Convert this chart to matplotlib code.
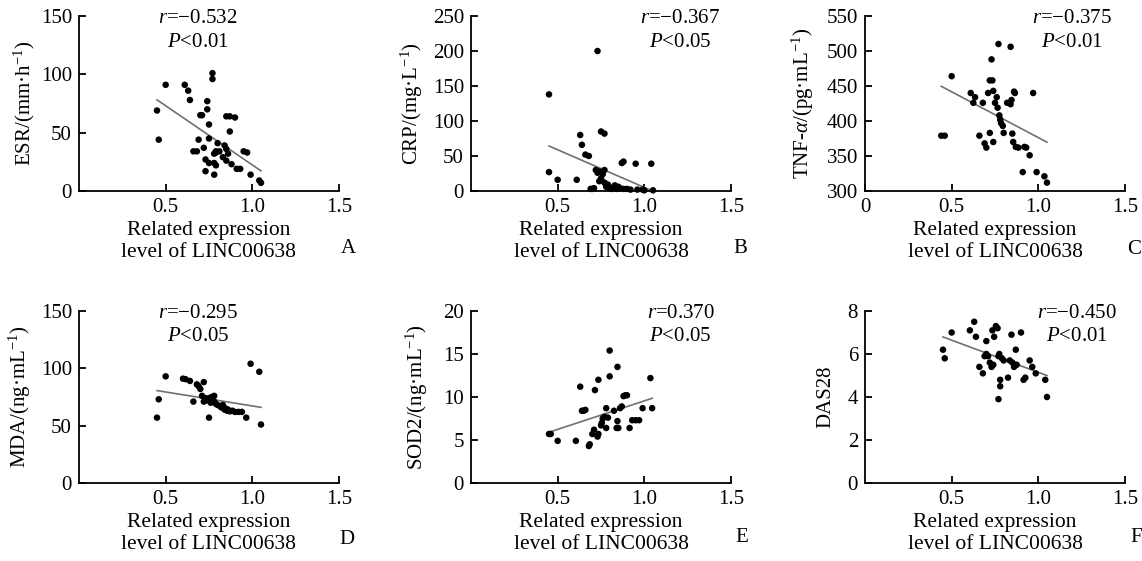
import matplotlib
matplotlib.use("Agg")
import matplotlib.pyplot as plt
import numpy as np

plt.rcParams['font.family'] = ['Liberation Serif', 'DejaVu Serif']
plt.rcParams['mathtext.fontset'] = 'custom'
plt.rcParams['mathtext.rm'] = 'Liberation Serif'
plt.rcParams['mathtext.it'] = 'Liberation Serif:italic'
plt.rcParams['axes.unicode_minus'] = True

# ESR
esr_x = [0.45, 0.46, 0.50, 0.61, 0.63, 0.64, 0.66, 0.68, 0.69, 0.70,
         0.71, 0.72, 0.73, 0.73, 0.74, 0.74, 0.75, 0.75, 0.75, 0.77,
         0.77, 0.78, 0.78, 0.78, 0.79, 0.79, 0.80, 0.79, 0.81, 0.83,
         0.84, 0.85, 0.85, 0.85, 0.87, 0.87, 0.86, 0.88, 0.90, 0.91,
         0.93, 0.95, 0.97, 0.99, 1.04, 1.05]
esr_y = [69, 44, 91, 91, 86, 78, 34, 34, 44, 65,
         65, 37, 17, 27, 77, 70, 57, 45, 24, 101,
         96, 24, 14, 32, 34, 33, 41, 22, 34, 29,
         39, 36, 26, 64, 64, 51, 32, 23, 63, 19,
         19, 34, 33, 14, 9, 7]

# CRP
crp_x = [0.45, 0.45, 0.50, 0.61, 0.63, 0.64, 0.66, 0.68, 0.69, 0.70,
         0.71, 0.72, 0.73, 0.73, 0.74, 0.74, 0.75, 0.75, 0.76, 0.77,
         0.77, 0.77, 0.78, 0.78, 0.79, 0.80, 0.81, 0.82, 0.83, 0.84,
         0.85, 0.86, 0.87, 0.88, 0.88, 0.90, 0.92, 0.95, 0.96, 0.99,
         1.00, 1.04, 1.05]
crp_y = [138, 27, 16, 16, 80, 66, 52, 50, 3, 3,
         4, 30, 200, 26, 28, 14, 18, 85, 24, 82,
         30, 12, 10, 6, 9, 4, 3, 5, 8, 3,
         6, 4, 40, 42, 3, 3, 2, 39, 2, 2,
         1, 39, 1]

# TNF-alpha
tnf_x = [0.44, 0.46, 0.50, 0.61, 0.635, 0.625, 0.68, 0.66, 0.69, 0.70,
         0.71, 0.72, 0.72, 0.735, 0.73, 0.74, 0.74, 0.75, 0.76, 0.765,
         0.77, 0.775, 0.78, 0.785, 0.795, 0.80, 0.82, 0.84, 0.845, 0.84,
         0.85, 0.855, 0.865, 0.87, 0.885, 0.86, 0.91, 0.92, 0.93, 0.95,
         0.97, 0.99, 1.035, 1.05]
tnf_y = [379, 379, 464, 440, 434, 426, 426, 379, 368, 362,
         440, 383, 458, 458, 488, 370, 443, 426, 434, 419,
         510, 408, 402, 397, 393, 383, 426, 506, 430, 424,
         382, 370, 440, 363, 362, 442, 327, 363, 362, 351,
         440, 327, 321, 312]

# MDA
mda_x = [0.45, 0.46, 0.50, 0.60, 0.615, 0.64, 0.66, 0.68, 0.69, 0.70,
         0.72, 0.71, 0.72, 0.73, 0.75, 0.75, 0.765, 0.77, 0.78, 0.79,
         0.80, 0.815, 0.82, 0.84, 0.845, 0.86, 0.87, 0.885, 0.90, 0.92,
         0.94, 0.965, 0.99, 1.04, 1.05, 0.78, 0.74, 0.76, 0.83, 0.855]
mda_y = [57, 73, 93, 91, 90.5, 89, 71, 86, 84.5, 82,
         88, 76, 71, 74, 57, 74, 75, 72, 71, 69,
         68, 67, 66, 64, 65, 64, 62.5, 63, 62, 62,
         62, 57, 104, 97, 51, 76, 72, 70, 68, 63]

# SOD2
sod_x = [0.45, 0.46, 0.50, 0.605, 0.63, 0.64, 0.65, 0.66, 0.68, 0.685,
         0.70, 0.715, 0.71, 0.73, 0.735, 0.735, 0.75, 0.755, 0.76, 0.77,
         0.78, 0.78, 0.79, 0.80, 0.80, 0.825, 0.84, 0.85, 0.845, 0.845,
         0.86, 0.87, 0.88, 0.89, 0.90, 0.915, 0.93, 0.95, 0.97, 0.99,
         1.035, 1.045]
sod_y = [5.7, 5.7, 4.9, 4.9, 11.2, 8.4, 8.4, 8.5, 4.3, 4.5,
         5.7, 10.8, 6.2, 5.4, 5.7, 12.0, 6.7, 7.0, 7.5, 7.7,
         8.7, 6.4, 7.6, 15.4, 12.4, 8.4, 6.4, 6.4, 13.5, 7.2,
         8.7, 8.9, 10.1, 10.2, 10.2, 6.4, 7.3, 7.3, 7.3, 8.7,
         12.2, 8.7]

# DAS28
das_x = [0.45, 0.46, 0.50, 0.605, 0.63, 0.64, 0.66, 0.68, 0.70, 0.69,
         0.70, 0.71, 0.72, 0.73, 0.74, 0.735, 0.745, 0.755, 0.765, 0.77,
         0.775, 0.77, 0.78, 0.78, 0.79, 0.80, 0.825, 0.835, 0.845, 0.85,
         0.86, 0.87, 0.865, 0.875, 0.90, 0.915, 0.925, 0.95, 0.965, 0.985,
         1.04, 1.05]
das_y = [6.2, 5.8, 7.0, 7.1, 7.5, 6.8, 5.4, 5.1, 6.6, 5.9,
         6.0, 5.9, 5.6, 5.4, 5.5, 7.1, 6.8, 7.3, 7.2, 5.9,
         6.0, 3.9, 4.8, 4.5, 5.8, 5.7, 4.9, 5.7, 6.9, 5.6,
         5.4, 6.2, 5.5, 5.5, 7.0, 4.8, 4.9, 5.7, 5.4, 5.1,
         4.8, 4.0]

panels = [
    (esr_x, esr_y, 'ESR/(mm·h$^{-1}$)', (0, 150), [0, 50, 100, 150], '−0.532', '0.01', 0.458, 'A'),
    (crp_x, crp_y, 'CRP/(mg·L$^{-1}$)', (0, 250), [0, 50, 100, 150, 200, 250], '−0.367', '0.05', 0.805, 'B'),
    (tnf_x, tnf_y, 'TNF-$\\alpha$/(pg·mL$^{-1}$)', (300, 550), [300, 350, 400, 450, 500, 550], '−0.375', '0.01', 0.796, 'C'),
    (mda_x, mda_y, 'MDA/(ng·mL$^{-1}$)', (0, 150), [0, 50, 100, 150], '−0.295', '0.05', 0.458, 'D'),
    (sod_x, sod_y, 'SOD2/(ng·mL$^{-1}$)', (0, 20), [0, 5, 10, 15, 20], '0.370', '0.05', 0.806, 'E'),
    (das_x, das_y, 'DAS28', (0, 8), [0, 2, 4, 6, 8], '−0.450', '0.01', 0.815, 'F'),
]

W, H = 1142, 561
fig = plt.figure(figsize=(W / 100, H / 100), dpi=100)

lefts = [79, 471, 865]
ylab_x = [-0.16, -0.177, -0.19, -0.177, -0.158, -0.115]
letter_pos = [(348, 248), (740, 248), (1134, 250), (347, 540), (742, 538), (1136, 538)]

for i, (x, y, ylab, ylim, yt, r, p, tx, letter) in enumerate(panels):
    row, col = divmod(i, 3)
    if row == 0:
        top, bot = 16, 191
    else:
        top, bot = 311, 483
    ax = fig.add_axes([lefts[col] / W, (H - bot) / H, 260 / W, (bot - top) / H])

    ax.scatter(x, y, s=22, color='black', edgecolors='none', zorder=3, clip_on=False)
    # least squares line over the measured range
    k, b = np.polyfit(x, y, 1)
    xs = np.array([min(x), max(x)])
    ax.plot(xs, k * xs + b, color='#707070', lw=1.2, zorder=2)

    ax.set_xlim(0, 1.5)
    ax.set_ylim(*ylim)
    ax.set_yticks(yt)
    if ylim[0] == 0:
        ax.set_xticks([0.5, 1.0, 1.5])
    else:
        ax.set_xticks([0, 0.5, 1.0, 1.5])
    ax.set_xticklabels([f'{v:g}' if v == 0 else f'{v:.1f}' for v in ax.get_xticks()])
    ax.spines['top'].set_visible(False)
    ax.spines['right'].set_visible(False)
    for s in ('left', 'bottom'):
        ax.spines[s].set_linewidth(1.3)
    ax.tick_params(direction='in', length=5, width=1.3, labelsize=15, pad=5)

    ax.set_ylabel(ylab, fontsize=15)
    ax.yaxis.set_label_coords(ylab_x[i], 0.5)
    ax.set_xlabel('Related expression\nlevel of LINC00638', fontsize=15.5, labelpad=3,
                  linespacing=1.2)

    ax.text(tx, 0.985, f'$r$={r}', transform=ax.transAxes, ha='center', va='center', fontsize=15)
    ax.text(tx, 0.85, f'$P$<{p}', transform=ax.transAxes, ha='center', va='center', fontsize=15)

    fig.text(letter_pos[i][0] / W, 1 - letter_pos[i][1] / H, letter, ha='center', va='center',
             fontsize=15)

fig.savefig('out.png', dpi=100, facecolor='white')
